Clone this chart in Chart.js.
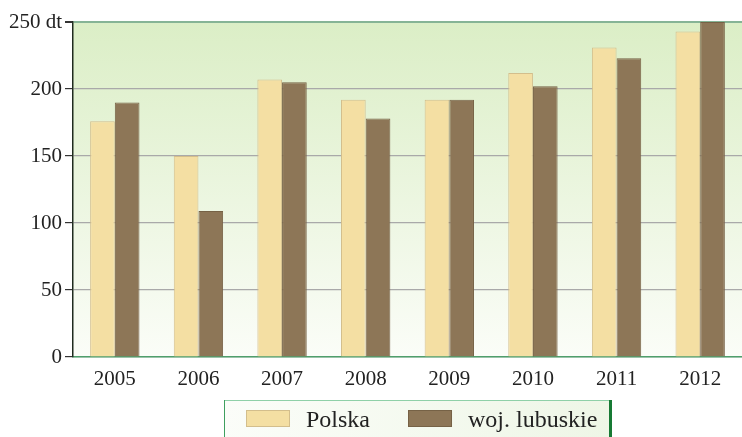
<!DOCTYPE html>
<html>
<head>
<meta charset="utf-8">
<script src="https://cdn.jsdelivr.net/npm/chart.js@4"></script>
<style>
  html, body { margin: 0; padding: 0; background: #fff; }
  #wrap { width: 742px; height: 437px; position: relative; }
</style>
</head>
<body>
<div id="wrap"><canvas id="chart" width="742" height="437"></canvas></div>
<script>
const years = ['2005', '2006', '2007', '2008', '2009', '2010', '2011', '2012'];
const polska = [176, 150, 207, 192, 192, 212, 231, 243];
const lubuskie = [190, 109, 205, 178, 192, 202, 223, 250];
const seriesNames = ['Polska', 'woj. lubuskie'];
const yTicks = [0, 50, 100, 150, 200, 250];

const serif = '"Liberation Serif", "DejaVu Serif", serif';

// gradient tło obszaru wykresu
const plotBackground = {
    id: 'plotBackground',
    beforeDraw(chart) {
        const { ctx, chartArea: a } = chart;
        const g = ctx.createLinearGradient(0, a.top, 0, a.bottom);
        g.addColorStop(0, '#dbeec6');
        g.addColorStop(1, '#fbfdf8');
        ctx.save();
        ctx.fillStyle = g;
        ctx.fillRect(a.left, a.top, a.right - a.left, a.bottom - a.top);
        ctx.restore();
    }
};

// legenda w ramce pod wykresem
const boxLegend = {
    id: 'boxLegend',
    afterDraw(chart) {
        const ctx = chart.ctx;
        const x0 = 224, y0 = 400, x1 = 612, y1 = 440;
        ctx.save();
        const g = ctx.createLinearGradient(x0, y0, x1, y1);
        g.addColorStop(0, '#fbfdf9');
        g.addColorStop(1, '#eef6e6');
        ctx.fillStyle = g;
        ctx.fillRect(x0, y0, x1 - x0, y1 - y0);
        ctx.strokeStyle = '#8fd0a8';
        ctx.lineWidth = 1;
        ctx.beginPath();
        ctx.moveTo(x0, y0 + 0.5);
        ctx.lineTo(x1, y0 + 0.5);
        ctx.stroke();
        ctx.strokeStyle = '#3f9f5f';
        ctx.beginPath();
        ctx.moveTo(x0 + 0.5, y0);
        ctx.lineTo(x0 + 0.5, y1);
        ctx.stroke();
        ctx.strokeStyle = '#177a34';
        ctx.lineWidth = 3;
        ctx.beginPath();
        ctx.moveTo(x1 - 1.5, y0);
        ctx.lineTo(x1 - 1.5, y1);
        ctx.stroke();

        ctx.font = '24px ' + serif;
        ctx.textBaseline = 'alphabetic';
        let x = 246;
        chart.data.datasets.forEach(ds => {
            ctx.fillStyle = ds.backgroundColor;
            ctx.fillRect(x, 410, 44, 17);
            ctx.strokeStyle = ds.borderColor;
            ctx.lineWidth = 1;
            ctx.strokeRect(x + 0.5, 410.5, 43, 16);
            x += 44 + 16;
            ctx.fillStyle = '#222';
            ctx.fillText(ds.label, x, 427);
            x += ctx.measureText(ds.label).width + 38;
        });
        ctx.restore();
    }
};

const ctx = document.getElementById('chart').getContext('2d');
new Chart(ctx, {
    type: 'bar',
    data: {
        labels: years,
        datasets: [{
            label: seriesNames[0],
            data: polska,
            backgroundColor: '#f4dfa3',
            borderColor: '#d3be8c',
            borderWidth: 1
        }, {
            label: seriesNames[1],
            data: lubuskie,
            backgroundColor: '#8d7657',
            borderColor: '#766246',
            borderWidth: 1
        }]
    },
    options: {
        responsive: false,
        animation: false,
        layout: { padding: { top: 22, right: 0, bottom: 0, left: 0 } },
        plugins: {
            legend: { display: false },
            tooltip: { enabled: false }
        },
        datasets: {
            bar: { barPercentage: 1, categoryPercentage: 0.59 }
        },
        scales: {
            x: {
                grid: { display: false, drawTicks: false },
                border: { color: '#4f9f6c', width: 1.5 },
                ticks: {
                    color: '#222',
                    font: { family: serif, size: 21 },
                    padding: 10
                },
                afterFit(scale) { scale.height = 80; }
            },
            y: {
                min: 0,
                max: 250,
                afterBuildTicks(scale) { scale.ticks = yTicks.map(v => ({ value: v })); },
                grid: {
                    color: c => c.tick && c.tick.value === 250 ? '#86b496' : '#a9a9a9',
                    lineWidth: c => c.tick && c.tick.value === 250 ? 2 : 1.2,
                    tickColor: '#333',
                    tickLength: 8
                },
                border: { color: '#1f2b1f', width: 1.5 },
                ticks: {
                    color: '#222',
                    font: { family: serif, size: 21 },
                    padding: 3,
                    callback: v => v === 250 ? '250 dt' : v
                },
                afterFit(scale) { scale.width = 73; }
            }
        }
    },
    plugins: [plotBackground, boxLegend]
});
</script>
</body>
</html>
